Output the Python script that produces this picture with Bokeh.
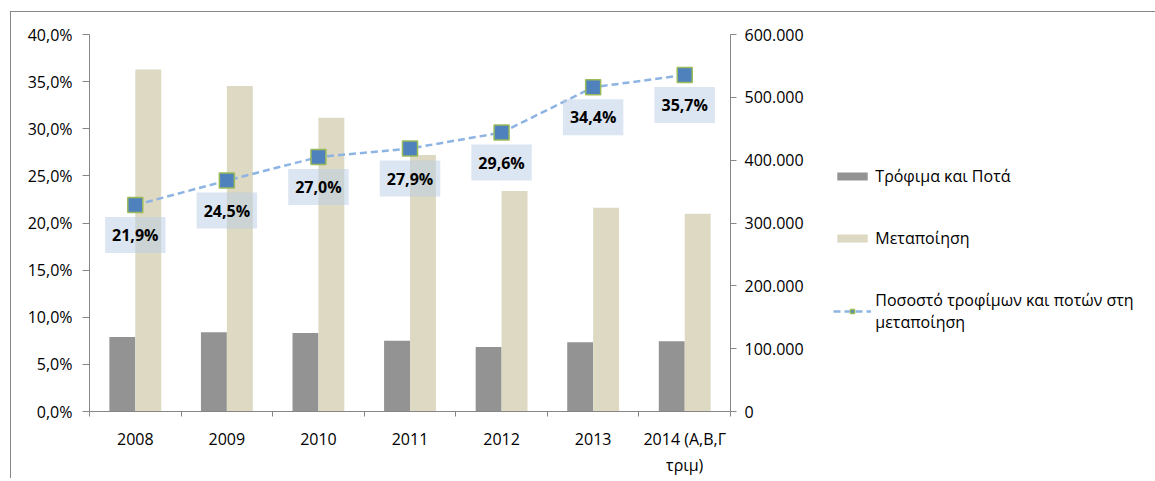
from bokeh.core.properties import value
from bokeh.embed import file_html
from bokeh.models import (ColumnDataSource, FixedTicker, Legend, LegendItem,
                          LinearAxis, Range1d)
from bokeh.plotting import figure
from bokeh.resources import INLINE

# data
years = ["2008", "2009", "2010", "2011", "2012", "2013", "2014 (Α,Β,Γ\nτριμ)"]
food = [118600, 126000, 124900, 112700, 102700, 110100, 111700]
manuf = [544300, 518000, 467600, 408200, 350900, 324400, 314800]
share = [21.9, 24.5, 27.0, 27.9, 29.6, 34.4, 35.7]

pct_ticks = [0, 5, 10, 15, 20, 25, 30, 35, 40]
count_ticks = [0, 100000, 200000, 300000, 400000, 500000, 600000]

FONT = "Open Sans"
AXIS = "#868686"
GREY = "#939393"
BEIGE = "#DDD9C3"

xs = [i + 0.5 for i in range(len(years))]
bar_w = 0.283

src = ColumnDataSource(data=dict(
    x=xs,
    x_food=[x - bar_w / 2 for x in xs],
    x_manuf=[x + bar_w / 2 for x in xs],
    food=food,
    manuf=manuf,
    share=share,
    share_lbl=[f"{v:.1f}".replace(".", ",") + "%" for v in share],
))

p = figure(frame_width=641, frame_height=377, x_range=Range1d(0, len(years)),
           y_range=Range1d(0, 40), output_backend="svg", toolbar_location=None,
           min_border_left=78, min_border_top=22, min_border_bottom=40,
           min_border_right=425)
p.styles = {"border-top": f"1px solid {AXIS}", "border-left": f"1px solid {AXIS}",
            "margin-left": "10px", "margin-top": "11px"}
p.outline_line_color = None
p.grid.grid_line_color = None
p.background_fill_color = "white"
p.border_fill_color = "white"

p.extra_y_ranges = {"n": Range1d(0, 600000)}

# bars against the right axis
r_food = p.vbar(x="x_food", top="food", width=bar_w, source=src, y_range_name="n",
                fill_color=GREY, line_color=None)
r_manuf = p.vbar(x="x_manuf", top="manuf", width=bar_w, source=src, y_range_name="n",
                 fill_color=BEIGE, line_color=None)

# share line against the left axis
r_line = p.line(x="x", y="share", source=src, line_color="#8EB4E3", line_width=2.5,
                line_dash="7 4")
p.text(x="x", y="share", text="share_lbl", source=src, y_offset=30,
       text_font=value(FONT), text_font_style="bold", text_font_size="16px",
       text_color="black", text_align="center", text_baseline="middle",
       background_fill_color="#B9CDE5", background_fill_alpha=0.5, padding=7)
r_pts = p.scatter(x="x", y="share", source=src, marker="square", size=15,
                  fill_color="#4F81BD", line_color="#9BBB59", line_width=1.5)

# axes
xa = p.xaxis[0]
xa.ticker = FixedTicker(ticks=xs, minor_ticks=list(range(len(years) + 1)))
xa.major_label_overrides = {x: y for x, y in zip(xs, years)}
xa.major_tick_out = 0
xa.minor_tick_out = 5
xa.minor_tick_in = 0
xa.major_label_standoff = 11

ya = p.yaxis[0]
ya.ticker = FixedTicker(ticks=pct_ticks)
ya.major_label_overrides = {t: f"{t:.1f}".replace(".", ",") + "%" for t in pct_ticks}
ya.major_tick_out = 7
ya.major_label_standoff = 10

ra = LinearAxis(y_range_name="n", ticker=FixedTicker(ticks=count_ticks))
ra.major_label_overrides = {t: f"{t:,}".replace(",", ".") for t in count_ticks}
ra.major_tick_out = 6
ra.major_label_standoff = 8
p.add_layout(ra, "right")

for ax in [xa, ya, ra]:
    ax.axis_line_color = AXIS
    ax.major_tick_line_color = AXIS
    ax.minor_tick_line_color = AXIS if ax is xa else None
    ax.major_tick_in = 0
    ax.major_label_text_font = FONT
    ax.major_label_text_font_size = "16px"
    ax.major_label_text_color = "black"

legend = Legend(items=[
    LegendItem(label="Τρόφιμα και Ποτά", renderers=[r_food]),
    LegendItem(label="Μεταποίηση", renderers=[r_manuf]),
    LegendItem(label="Ποσοστό τροφίμων και ποτών στη\nμεταποίηση", renderers=[r_line, r_pts]),
], location=(-204, 78), orientation="vertical", border_line_color=None,
    background_fill_alpha=0, padding=0, margin=0, spacing=40,
    glyph_width=38, glyph_height=10, label_standoff=4,
    label_text_font=FONT, label_text_font_size="16px", label_text_color="black")
p.add_layout(legend, "right")

open("out.html", "w").write(file_html(p, INLINE))
